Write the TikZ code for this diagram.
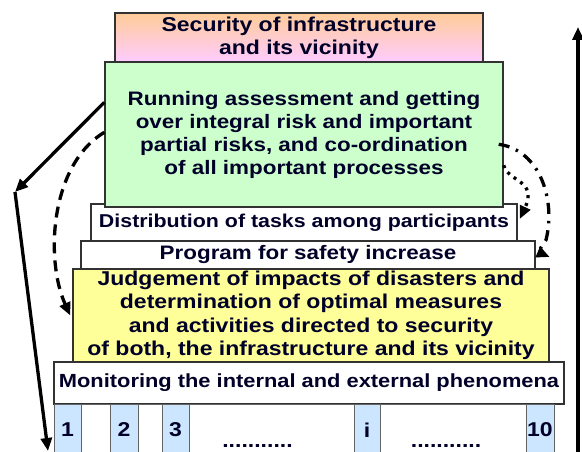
\documentclass[tikz,border=0pt]{standalone}
\usepackage{fontspec}
\setmainfont{Liberation Sans}[FakeStretch=1.15]
\usetikzlibrary{arrows.meta}

\definecolor{txtnavy}{RGB}{0,0,40}
\definecolor{edgegray}{RGB}{50,50,50}
\definecolor{cellgray}{RGB}{100,100,100}
\definecolor{runfill}{RGB}{204,255,204}
\definecolor{judgfill}{RGB}{255,255,153}
\definecolor{cellfill}{RGB}{204,230,255}
\definecolor{secorange}{RGB}{255,204,153}
\definecolor{secpink}{RGB}{255,204,255}

\begin{document}
\begin{tikzpicture}[x=1pt,y=-1pt,
  layer/.style={rectangle,draw=edgegray,line width=1.4pt,inner sep=0pt,align=center,text=txtnavy,font=\bfseries\fontsize{19.5}{23}\selectfont},
  cell/.style={rectangle,draw=cellgray,line width=1pt,inner sep=0pt,minimum height=52pt,text=txtnavy,font=\bfseries\fontsize{20}{23}\selectfont},
  numcell/.style={cell,fill=cellfill},
  dotrow/.style={yshift=-16pt,inner sep=0pt,text=txtnavy,font=\bfseries\fontsize{20}{23}\selectfont},
  flow/.style={line width=3.3pt,-{Triangle[length=13pt,width=11pt]}},
  dashflow/.style={flow,dash pattern=on 11pt off 7pt},
  dashdotflow/.style={flow,dash pattern=on 11pt off 7pt on 2.5pt off 7pt},
  dotflow/.style={flow,dash pattern=on 3pt off 5pt}]
\useasboundingbox (0,0) rectangle (582,452);

\coordinate (S) at (299,37.5);
\coordinate (R) at (304,134.5);
\coordinate (D) at (304,222.5);
\coordinate (P) at (308,255);
\coordinate (J) at (311,315.5);
\coordinate (M) at (309,383);
\coordinate (K) at (15,192);
\coordinate (B) at (48,451);
\coordinate (T0) at (578,470);
\coordinate (T) at (578,27);

% stacked layers
\node[layer,minimum width=426pt,minimum height=37pt,font=\bfseries\fontsize{18.6}{23}\selectfont] (D1) at (D) {Distribution of tasks among participants};
\node[layer,minimum width=368pt,minimum height=49pt,top color=secorange,bottom color=secpink,font=\bfseries\fontsize{20}{23}\selectfont] (S1) at (S) {Security of infrastructure\\and its vicinity};
\node[layer,minimum width=398pt,minimum height=145pt,fill=runfill] (R1) at (R) {Running assessment and getting\\over integral risk and important\\partial risks, and co-ordination\\of all important processes};
\node[layer,minimum width=454pt,minimum height=28pt,fill=white,font=\bfseries\fontsize{19.5}{23}\selectfont] (P1) at (P) {Program for safety increase};
\node[layer,minimum width=476pt,minimum height=93pt,fill=judgfill,font=\bfseries\fontsize{20}{23.5}\selectfont] (J1) at (J) {Judgement of impacts of disasters and\\determination of optimal measures\\and activities directed to security\\of both, the infrastructure and its vicinity};
\node[layer,minimum width=510pt,minimum height=42pt,fill=white,font=\bfseries\fontsize{19}{23}\selectfont] (M1) at (M) {Monitoring the internal and external phenomena};

% row of cells
\node[numcell,minimum width=27pt] (C1) at (67.5,430) {1};
\node[cell,minimum width=29pt] (C2) at (95.5,430) {};
\node[numcell,minimum width=28pt] (C3) at (124,430) {2};
\node[cell,minimum width=24pt] (C4) at (150,430) {};
\node[numcell,minimum width=27pt] (C5) at (175.5,430) {3};
\node[cell,minimum width=165pt,label={[dotrow,xshift=-14pt]center:...........}] (C6) at (271.5,430) {};
\node[numcell,minimum width=26pt] (C7) at (367,430) {i};
\node[cell,minimum width=146pt,label={[dotrow,xshift=-7pt]center:...........}] (C8) at (453,430) {};
\node[numcell,minimum width=28pt] (C9) at (540,430) {10};

% connectors
\draw[flow] ([yshift=-41pt]R1.north west) -- (K);
\draw[flow] (K) -- (B);
\draw[flow] (T0) -- (T);
\draw[dashflow] ([yshift=-71pt]R1.north west) .. controls (50,165) and (45,260) .. ([xshift=-2pt]J1.west);
\draw[dashdotflow] ([xshift=-5pt,yshift=-83pt]R1.north east) .. controls (540,150) and (556,200) .. (546,240) .. controls (538,252) .. ([xshift=14pt,yshift=-2pt]P1.east);
\draw[dotflow] ([yshift=-104pt]R1.north east) .. controls (508,182) and (538,180) .. ([xshift=2pt,yshift=3.5pt]D1.east);

\end{tikzpicture}
\end{document}
